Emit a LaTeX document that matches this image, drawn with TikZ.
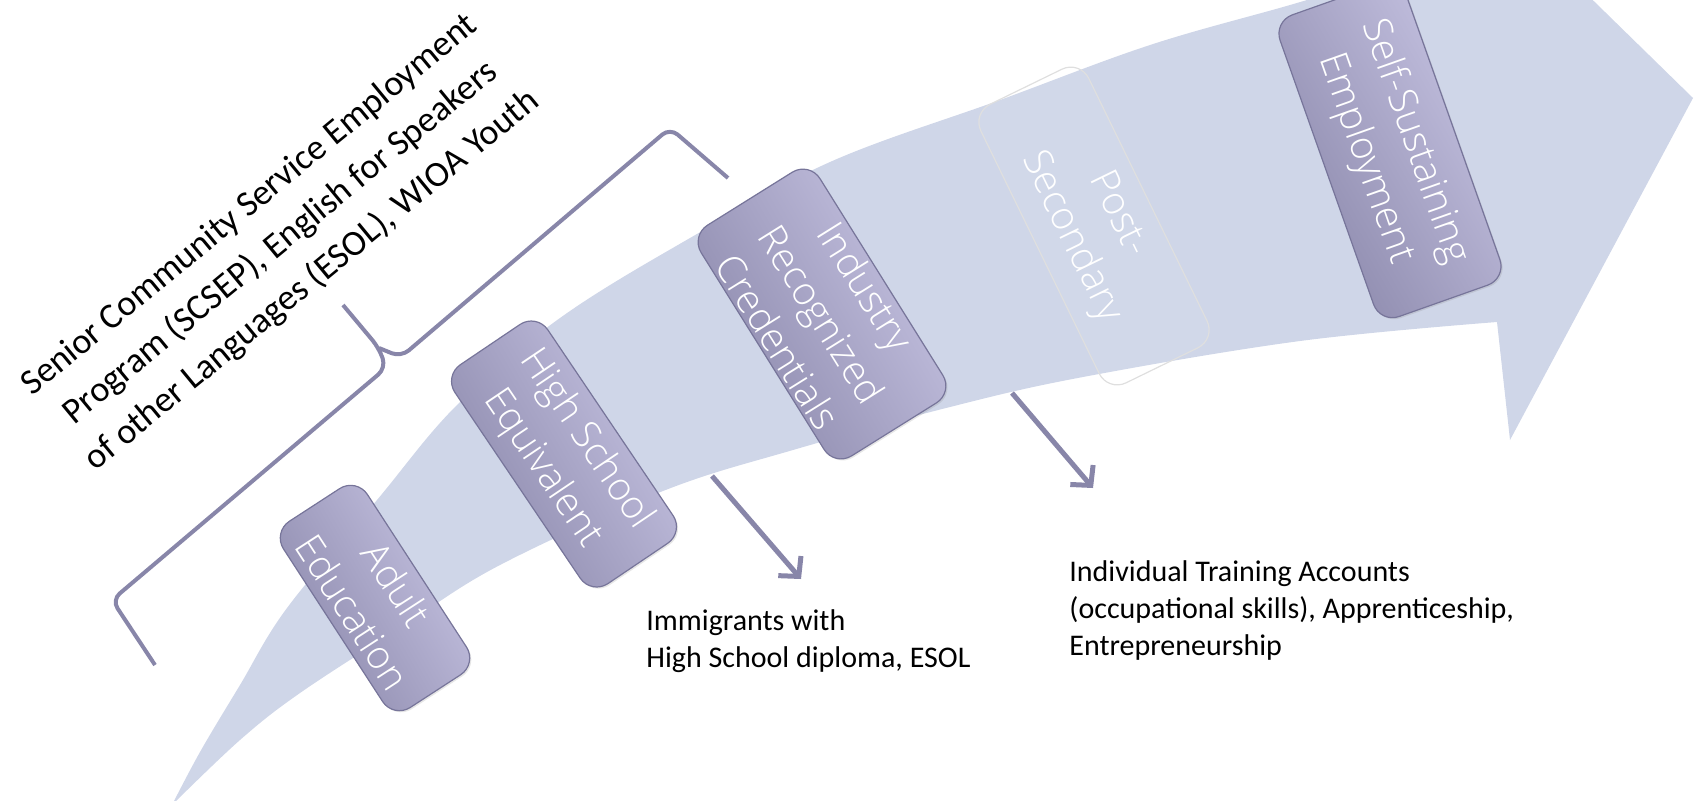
\documentclass[tikz,border=0pt]{standalone}
\usepackage{fontspec}
\setmainfont{Carlito}
\IfFontExistsTF{Open Sans Light}{\newfontfamily\stepfont{Open Sans Light}}{\newfontfamily\stepfont{Open Sans}}
\usepackage{tikz}
\usetikzlibrary{arrows.meta,shadows}
\definecolor{pathfill}{HTML}{CFD6E8}
\definecolor{stepdark}{HTML}{8A87AA}
\definecolor{steplight}{HTML}{C7C4E3}
\definecolor{stepline}{HTML}{77759A}
\definecolor{linkcol}{HTML}{8886A9}

\begin{document}
\begin{tikzpicture}[x=0.5pt,y=-0.5pt,
    stepbox/.style={rectangle, rounded corners=10pt, draw=stepline, line width=0.6pt,
      top color=steplight, bottom color=stepdark, shading angle=-60,
      text=white, align=center, inner sep=0pt,
      font=\stepfont\fontsize{19.5}{26}\selectfont,
      drop shadow={opacity=0.2, shadow xshift=0.8pt, shadow yshift=-0.8pt}},
    fadedbox/.style={rectangle, rounded corners=10pt, draw=gray!25, line width=0.6pt,
      fill=white, fill opacity=0.06, text opacity=1, text=white, align=center, inner sep=0pt,
      font=\stepfont\fontsize{19.5}{26}\selectfont},
    bracket/.style={draw=linkcol, line width=2pt, rounded corners=5pt},
    link/.style={draw=linkcol, line width=2.5pt, ->},
    >={Straight Barb[length=7pt,width=15pt]},
    notetext/.style={font=\fontsize{15}{18.5}\selectfont, align=left, inner sep=0pt, anchor=north west}]
  \useasboundingbox (0,0) rectangle (1697,800);
  \clip (0,0) rectangle (1697,800);

  % the big curved arrow
  \fill[pathfill] plot[smooth, tension=0.6] coordinates {(172,805) (200,752) (240,685) (287,608)
      (377,500) (457,405) (560,318) (690,238) (830,162) (1000,100) (1150,45) (1290,5) (1380,-22)}
    -- (1562,-30) -- (1693,98) -- (1510,440) -- (1497,322)
    -- plot[smooth, tension=0.6] coordinates {(1497,322) (1300,341) (1083,377) (950,407) (793,450)
      (663,491) (500,565) (400,628) (300,693) (240,740) (172,805)} -- cycle;

  % brace
  \coordinate (lowend)    at (155,665);
  \coordinate (lowcorner) at (112,600);
  \coordinate (lowjoin)   at (386,368);
  \coordinate (mid)       at (379,348);
  \coordinate (tip)       at (343,305);
  \coordinate (upjoin)    at (401,357);
  \coordinate (upcorner)  at (670,128);
  \coordinate (upend)     at (728,178);
  \draw[bracket] (lowend) -- (lowcorner) -- (lowjoin) -- (mid) -- (tip);
  \draw[bracket] (mid) -- (upjoin) -- (upcorner) -- (upend);

  % steps
  \node[stepbox, minimum width=111pt, minimum height=50pt, rotate=-57] (adult) at (375,598) {Adult\\Education};
  \node[stepbox, minimum width=132pt, minimum height=56pt, rotate=-56] (hschool) at (564,454) {High School\\Equivalent};
  \node[stepbox, minimum width=136pt, minimum height=70pt, rotate=-58] (industry) at (822,314) {Industry\\Recognized\\Credentials};
  \node[fadedbox, minimum width=155pt, minimum height=60pt, rotate=-64] (postsec) at (1094,226) {Post-\\Secondary};
  \node[stepbox, minimum width=160pt, minimum height=67pt, rotate=-70.5] (selfemp) at (1390,150) {Self-Sustaining\\Employment};

  % programs
  \node[rotate=39.5, align=center, inner sep=0pt, font=\fontsize{18}{24.5}\selectfont] (programs) at (281,243)
    {Senior Community Service Employment\\Program (SCSEP), English for Speakers\\of other Languages (ESOL), WIOA Youth};

  \node[notetext] (immig) at (646,609) {Immigrants with\\High School diploma, ESOL};
  \node[notetext] (itaccts) at (1069,560) {Individual Training Accounts\\(occupational skills), Apprenticeship,\\Entrepreneurship};

  \coordinate (hsfoot) at (712,476);
  \coordinate (hstip)  at (801,579);
  \coordinate (psfoot) at (1012,393);
  \coordinate (pstip)  at (1093,488);
  \draw[link] (hsfoot) -- (hstip);
  \draw[link] (psfoot) -- (pstip);
\end{tikzpicture}
\end{document}
